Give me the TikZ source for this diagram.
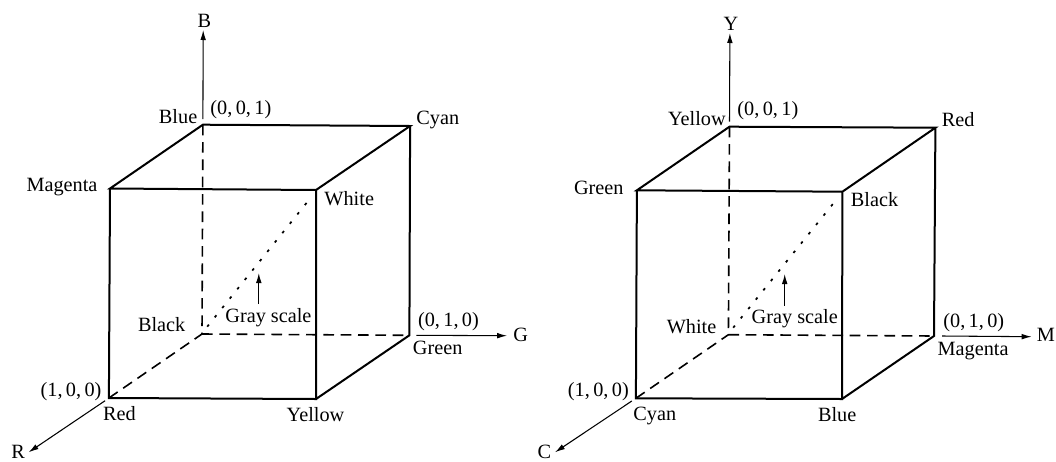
\documentclass[tikz,border=0pt]{standalone}
\usepackage{fontspec}
\setmainfont{Liberation Serif}
\usetikzlibrary{arrows.meta}
\tikzset{
 edge/.style={line width=1.5pt,line join=miter},
 hid/.style={line width=1.2pt,dash pattern=on 8pt off 5pt},
 dots/.style={line width=1.3pt,dash pattern=on 2pt off 7pt},
 axis/.style={line width=0.8pt,-{Latex[length=7.5pt,width=4.2pt]}},
 lab/.style={font=\fontsize{15.2}{17}\selectfont,inner sep=0pt,anchor=base west}
}
\begin{document}
\begin{tikzpicture}[x=0.75pt,y=-0.75pt]
\useasboundingbox (0,0) rectangle (1056,461);
% left cube
\coordinate (O1) at (202,334);
\coordinate (R1) at (108.9,398);
\coordinate (G1) at (409.4,335.3);
\coordinate (Y1) at (316,399);
\coordinate (B1) at (202.9,124.7);
\coordinate (C1) at (410.1,126);
\coordinate (M1) at (110,188.5);
\coordinate (W1) at (316,190);
\coordinate (BS) at (202.9,119);
\coordinate (BT) at (203.2,30);
\coordinate (GS) at (416.4,335.3);
\coordinate (GT) at (507.1,335.7);
\coordinate (RS) at (105.1,400.7);
\coordinate (RT) at (28.6,452.3);
\coordinate (AS1) at (258.8,304);
\coordinate (AE1) at (258.8,273);
\coordinate (DS1) at (207.2,326.7);
\coordinate (DE1) at (311.3,197);
\draw[hid] (B1)--(O1) (O1)--(G1) (R1)--(O1);
\draw[dots] (DS1)--(DE1);
\draw[edge] (M1)--(B1)--(C1)--(W1)--cycle (M1)--(R1)--(Y1)--(W1) (Y1)--(G1)--(C1);
\draw[axis] (BS)--(BT);
\draw[axis] (GS)--(GT);
\draw[axis] (RS)--(RT);
\draw[axis] (AS1)--(AE1);
\node[lab] (t1) at (158.7,123) {Blue};
\node[lab] (t2) at (210.2,114) {(0,\,0,\,1)};
\node[lab] (t3) at (416.1,124) {Cyan};
\node[lab] (t4) at (26.3,191.7) {Magenta};
\node[lab] (t5) at (324.2,205) {White};
\node[lab] (t6) at (137.8,331.7) {Black};
\node[lab] (t7) at (225.1,322) {Gray scale};
\node[lab] (t8) at (417.8,326) {(0,\,1,\,0)};
\node[lab] (t9) at (412.7,354.3) {Green};
\node[lab] (t10) at (513.2,341) {G};
\node[lab] (t11) at (197.4,27) {B};
\node[lab] (t12) at (40.4,396.7) {(1,\,0,\,0)};
\node[lab] (t13) at (102.8,420.7) {Red};
\node[lab] (t14) at (286.4,421.7) {Yellow};
\node[lab] (t15) at (11.1,458.5) {R};
% right cube
\coordinate (O2) at (728.4,334.7);
\coordinate (R2) at (635.9,398.3);
\coordinate (G2) at (934,336);
\coordinate (Y2) at (842,399);
\coordinate (B2) at (729.5,126.7);
\coordinate (C2) at (935.4,127.7);
\coordinate (M2) at (636.9,190.3);
\coordinate (W2) at (842.4,191.7);
\coordinate (BS2) at (729.5,121.7);
\coordinate (BT2) at (729.9,33);
\coordinate (GS2) at (942.1,336);
\coordinate (GT2) at (1031.7,336.7);
\coordinate (RS2) at (631.8,401);
\coordinate (RT2) at (555,452.3);
\coordinate (AS2) at (784.7,305.7);
\coordinate (AE2) at (784.7,274);
\coordinate (DS2) at (733.2,327.7);
\coordinate (DE2) at (837.3,198.5);
\draw[hid] (B2)--(O2) (O2)--(G2) (R2)--(O2);
\draw[dots] (DS2)--(DE2);
\draw[edge] (M2)--(B2)--(C2)--(W2)--cycle (M2)--(R2)--(Y2)--(W2) (Y2)--(G2)--(C2);
\draw[axis] (BS2)--(BT2);
\draw[axis] (GS2)--(GT2);
\draw[axis] (RS2)--(RT2);
\draw[axis] (AS2)--(AE2);
\node[lab] (u1) at (667.8,125) {Yellow};
\node[lab] (u2) at (737.2,115.7) {(0,\,0,\,1)};
\node[lab] (u3) at (941.7,126.7) {Red};
\node[lab] (u4) at (573.8,194) {Green};
\node[lab] (u5) at (850.7,206.7) {Black};
\node[lab] (u6) at (666.5,333.3) {White};
\node[lab] (u7) at (751.4,323.3) {Gray scale};
\node[lab] (u8) at (943.1,327) {(0,\,1,\,0)};
\node[lab] (u9) at (937.4,355) {Magenta};
\node[lab] (u10) at (1036.7,341.7) {M};
\node[lab] (u11) at (723.4,30) {Y};
\node[lab] (u12) at (567.7,396.7) {(1,\,0,\,0)};
\node[lab] (u13) at (633.1,420.7) {Cyan};
\node[lab] (u14) at (817.8,421.7) {Blue};
\node[lab] (u15) at (537.4,458.5) {C};
\end{tikzpicture}
\end{document}
